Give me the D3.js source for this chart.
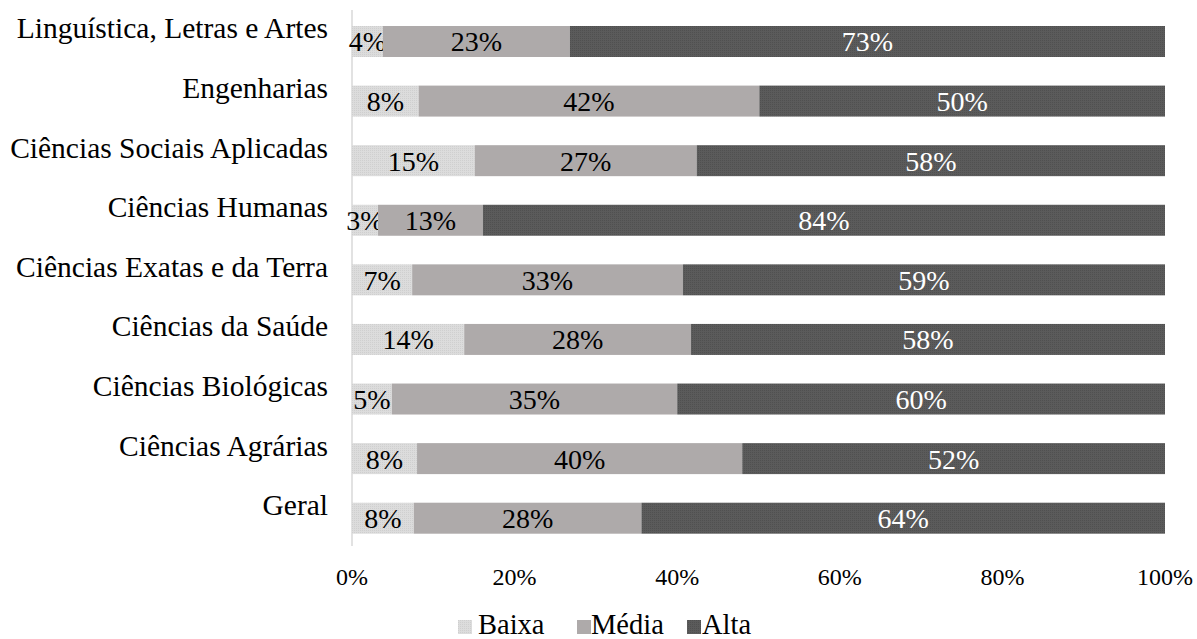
<!DOCTYPE html>
<html><head><meta charset="utf-8">
<script src="https://cdn.jsdelivr.net/npm/d3@7"></script>
<style>body{margin:0;background:#fff}svg{display:block}</style>
</head><body>
<svg id="c" width="1197" height="639"></svg>
<script>
const categories = ["Linguística, Letras e Artes","Engenharias","Ciências Sociais Aplicadas","Ciências Humanas","Ciências Exatas e da Terra","Ciências da Saúde","Ciências Biológicas","Ciências Agrárias","Geral"];
const baixa = [3.8, 8.2, 15.1, 3.2, 7.4, 13.8, 4.9, 8.0, 7.6];
const media = [23.0, 41.9, 27.3, 12.9, 33.3, 27.9, 35.1, 40.0, 28.0];
const alta  = [73.2, 49.9, 57.6, 83.9, 59.3, 58.3, 60.0, 52.0, 64.4];
const seriesNames = ["Baixa","Média","Alta"];
const xTicks = [0,20,40,60,80,100];

const labelColors = {Baixa:"#000", "Média":"#000", Alta:"#fff"};
const font = "'Liberation Serif','Times New Roman',serif";

const svg = d3.select("#c");
const defs = svg.append("defs");
function pat(id, base, dot){
  const p = defs.append("pattern").attr("id",id).attr("width",2).attr("height",2).attr("patternUnits","userSpaceOnUse");
  p.append("rect").attr("width",2).attr("height",2).attr("fill",base);
  p.append("rect").attr("width",1).attr("height",1).attr("fill",dot);
}
pat("pB","#dcdcdc","#cfcfcf");
pat("pA","#5b5b5b","#505050");
const fills = {Baixa:"url(#pB)","Média":"#aeaaaa",Alta:"url(#pA)"};

const x = d3.scaleLinear().domain([0,100]).range([352,1165]);
const y = d3.scaleBand().domain(categories).range([11.7,548]).paddingInner(0.48).paddingOuter(0.24);

const rows = categories.map((c,i)=>({cat:c, Baixa:baixa[i], "Média":media[i], Alta:alta[i]}));
const stack = d3.stack().keys(seriesNames)(rows);

svg.append("line").attr("x1",x(0)).attr("x2",x(0)).attr("y1",10).attr("y2",546)
  .attr("stroke","#d9d9d9").attr("stroke-width",1.5);

const g = svg.append("g");
stack.forEach(s=>{
  const key = s.key;
  const gg = g.append("g");
  gg.selectAll("rect").data(s).join("rect")
    .attr("x",d=>x(d[0])).attr("width",d=>x(d[1])-x(d[0]))
    .attr("y",d=>y(d.data.cat)).attr("height",y.bandwidth())
    .attr("fill",fills[key]);
  gg.selectAll("text").data(s).join("text")
    .attr("x",d=>(x(d[0])+x(d[1]))/2)
    .attr("y",d=>y(d.data.cat)+y.bandwidth()/2+10)
    .attr("text-anchor","middle")
    .attr("font-family",font).attr("font-size",28)
    .attr("fill",labelColors[key])
    .text(d=>Math.round(d[1]-d[0])+"%");
});

svg.append("g").selectAll("text").data(categories).join("text")
  .attr("x",328).attr("y",d=>y(d)+y.bandwidth()/2-3)
  .attr("text-anchor","end").attr("font-family",font).attr("font-size",29.5).attr("fill","#000")
  .text(d=>d);

svg.append("g").selectAll("text").data(xTicks).join("text")
  .attr("x",d=>x(d)).attr("y",585).attr("text-anchor","middle")
  .attr("font-family",font).attr("font-size",24).attr("fill","#000")
  .text(d=>d+"%");

const legSq = [458, 577, 687];
const legTx = [478, 591, 702];
const leg = svg.append("g");
seriesNames.forEach((k,i)=>{
  leg.append("rect").attr("x",legSq[i]).attr("y",620).attr("width",14).attr("height",14).attr("fill",fills[k]);
  leg.append("text").attr("x",legTx[i]).attr("y",634).attr("font-family",font).attr("font-size",28.5).attr("fill","#000").text(k);
});
</script>
</body></html>
